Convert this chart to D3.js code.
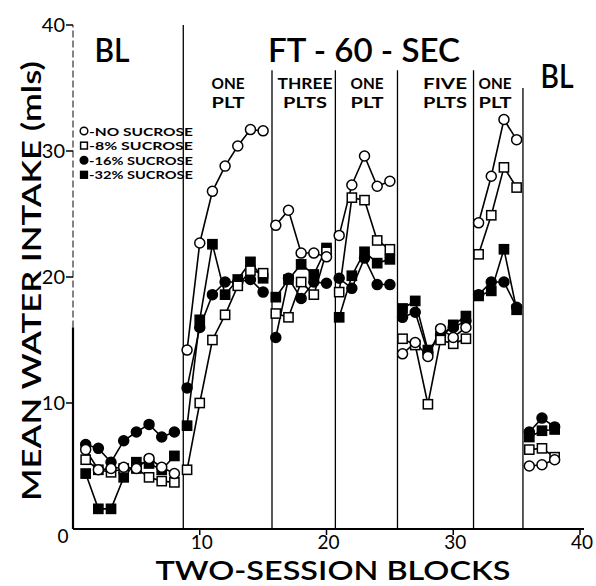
<!DOCTYPE html>
<html>
<head>
<meta charset="utf-8">
<script src="https://cdn.jsdelivr.net/npm/d3@7"></script>
<style>
  body { margin: 0; background: #fff; }
  text { font-family: Lato, "DejaVu Sans", sans-serif; fill: #000; }
</style>
</head>
<body>
<div id="chart"></div>
<script>
// blocks 1..38, split into phases
const phaseStarts = [1, 9, 16, 21, 26, 32, 36];
const phaseEnds = [8, 15, 20, 25, 31, 35, 38];
const dividers = [8.7, 15.7, 20.7, 25.6, 31.6, 35.5];
const dividerTops = [40, 36.4, 36.4, 36.4, 36.4, 35.0];

const noSucrose = [6.3, 4.7, 4.8, 4.9, 4.8, 5.6, 4.9, 4.4,
  14.2, 22.7, 26.8, 28.8, 30.4, 31.7, 31.6,
  24.1, 25.3, 21.9, 21.9, 21.6,
  23.3, 27.3, 29.6, 27.2, 27.6,
  13.9, 14.8, 13.7, 15.9, 15.2, 16.0,
  24.3, 28.0, 32.5, 30.9,
  5.0, 5.1, 5.5];
const sucrose8 = [5.5, 4.7, 4.5, 4.8, 4.8, 4.1, 3.8, 3.7,
  4.7, 10.0, 15.0, 17.0, 19.3, 20.5, 20.3,
  17.1, 16.8, 19.6, 18.6, 22.0,
  18.8, 26.3, 26.1, 22.9, 22.2,
  15.1, 14.6, 9.9, 15.0, 14.7, 15.1,
  21.8, 24.9, 28.7, 27.1,
  6.3, 6.4, 5.7];
const sucrose16 = [6.7, 6.4, 5.3, 7.0, 7.7, 8.3, 7.3, 7.7,
  11.2, 16.0, 18.6, 19.6, 19.6, 19.8, 18.8,
  15.2, 19.9, 18.3, 19.6, 19.5,
  19.9, 19.1, 21.5, 19.4, 19.4,
  16.8, 17.2, 14.0, 15.4, 16.0, 16.5,
  18.6, 19.6, 19.6, 17.6,
  7.7, 8.8, 8.1];
const sucrose32 = [4.4, 1.6, 1.6, 4.1, 5.3, 5.2, 4.7, 5.8,
  8.2, 16.6, 22.6, 18.6, 19.8, 21.2, 19.9,
  18.4, 19.8, 21.0, 20.2, 22.3,
  16.8, 20.1, 22.0, 21.1, 21.4,
  17.5, 18.1, 14.2, 15.3, 16.2, 16.9,
  18.5, 18.9, 22.2, 17.4,
  7.3, 7.8, 7.9];

const xTicks = [10, 20, 30, 40];
const yTicks = [10, 20, 30, 40];
const phaseLabels = [["ONE", "PLT"], ["THREE", "PLTS"], ["ONE", "PLT"], ["FIVE", "PLTS"], ["ONE", "PLT"]];
const phaseLabelX = [228, 305, 367, 445, 495];
const legendLabels = ["-NO SUCROSE", "-8% SUCROSE", "-16% SUCROSE", "-32% SUCROSE"];

const width = 596, height = 586;
const svg = d3.select("#chart").append("svg")
  .attr("width", width).attr("height", height);

const x = d3.scaleLinear().domain([0, 40]).range([73, 580]);
const y = d3.scaleLinear().domain([0, 40]).range([529, 25]);

// axes
svg.append("line").attr("x1", x(0)).attr("x2", x(40) + 4)
  .attr("y1", y(0)).attr("y2", y(0)).attr("stroke", "#000").attr("stroke-width", 2.2);
svg.append("line").attr("x1", x(0)).attr("x2", x(0))
  .attr("y1", y(0)).attr("y2", y(16)).attr("stroke", "#000").attr("stroke-width", 2.2);
svg.append("line").attr("x1", x(0)).attr("x2", x(0))
  .attr("y1", y(16)).attr("y2", y(40)).attr("stroke", "#333").attr("stroke-width", 1.2)
  .attr("stroke-dasharray", "7,3");

svg.append("g").selectAll("line").data(xTicks).enter().append("line")
  .attr("x1", d => x(d)).attr("x2", d => x(d))
  .attr("y1", y(0)).attr("y2", y(0) + 6).attr("stroke", "#000").attr("stroke-width", 1.5);
svg.append("g").selectAll("text").data(xTicks).enter().append("text")
  .attr("x", d => x(d) + 2).attr("y", 549)
  .attr("text-anchor", "middle").attr("font-size", 19).text(d => d);
svg.append("text").attr("x", 63).attr("y", 543).attr("text-anchor", "middle")
  .attr("font-size", 19).text("0");

svg.append("g").selectAll("line").data(yTicks).enter().append("line")
  .attr("x1", x(0) - 7).attr("x2", x(0))
  .attr("y1", d => y(d)).attr("y2", d => y(d)).attr("stroke", "#000").attr("stroke-width", 1.5);
svg.append("g").selectAll("text").data(yTicks).enter().append("text")
  .attr("x", x(0) - 8).attr("y", d => y(d) + 7)
  .attr("text-anchor", "end").attr("font-size", 20).text(d => d);

// axis titles
svg.append("text").attr("x", 333).attr("y", 580).attr("text-anchor", "middle")
  .attr("font-size", 26).attr("font-weight", 600)
  .attr("textLength", 355).attr("lengthAdjust", "spacingAndGlyphs")
  .text("TWO-SESSION BLOCKS");
svg.append("text").attr("transform", "translate(41,281) rotate(-90)")
  .attr("text-anchor", "middle").attr("font-size", 27).attr("font-weight", 600)
  .attr("textLength", 440).attr("lengthAdjust", "spacingAndGlyphs")
  .text("MEAN WATER INTAKE (mls)");

// phase dividers
svg.append("g").selectAll("line").data(dividers).enter().append("line")
  .attr("x1", d => x(d)).attr("x2", d => x(d))
  .attr("y1", y(0)).attr("y2", (d, i) => y(dividerTops[i]))
  .attr("stroke", "#000").attr("stroke-width", 1.3);

// headings
svg.append("text").attr("x", 112).attr("y", 62).attr("text-anchor", "middle")
  .attr("font-size", 33).attr("font-weight", 600)
  .attr("textLength", 35).attr("lengthAdjust", "spacingAndGlyphs").text("BL");
svg.append("text").attr("x", 557).attr("y", 88).attr("text-anchor", "middle")
  .attr("font-size", 33).attr("font-weight", 600)
  .attr("textLength", 33).attr("lengthAdjust", "spacingAndGlyphs").text("BL");
svg.append("text").attr("x", 364).attr("y", 62).attr("text-anchor", "middle")
  .attr("font-size", 33).attr("font-weight", 600)
  .attr("textLength", 192).attr("lengthAdjust", "spacingAndGlyphs").text("FT - 60 - SEC");

phaseLabels.forEach((lines, i) => {
  lines.forEach((t, j) => {
    svg.append("text").attr("x", phaseLabelX[i]).attr("y", 89 + j * 19)
      .attr("text-anchor", "middle").attr("font-size", 15.5).attr("font-weight", 700)
      .attr("textLength", t.length * 11).attr("lengthAdjust", "spacingAndGlyphs")
      .text(t);
  });
});

// series
const series = [
  { values: noSucrose, shape: "circle", filled: false },
  { values: sucrose8, shape: "square", filled: false },
  { values: sucrose16, shape: "circle", filled: true },
  { values: sucrose32, shape: "square", filled: true }
];

const line = d3.line().x(d => x(d.block)).y(d => y(d.value));

series.forEach(s => {
  phaseStarts.forEach((start, p) => {
    const seg = d3.range(start, phaseEnds[p] + 1).map(b => ({ block: b, value: s.values[b - 1] }));
    svg.append("path").datum(seg).attr("d", line)
      .attr("fill", "none").attr("stroke", "#000").attr("stroke-width", 1.6);
  });
});

function drawMarker(g, shape, filled, cx, cy, size) {
  if (shape === "circle") {
    g.append("circle").attr("cx", cx).attr("cy", cy).attr("r", size)
      .attr("fill", filled ? "#000" : "#fff").attr("stroke", "#000").attr("stroke-width", 1.5);
  } else {
    g.append("rect").attr("x", cx - size).attr("y", cy - size)
      .attr("width", size * 2).attr("height", size * 2)
      .attr("fill", filled ? "#000" : "#fff").attr("stroke", "#000").attr("stroke-width", 1.5);
  }
}

const marks = svg.append("g");
[series[3], series[2], series[1], series[0]].forEach(s => {
  s.values.forEach((v, i) => {
    drawMarker(marks, s.shape, s.filled, x(i + 1), y(v), s.shape === "circle" ? 5 : 4.6);
  });
});

// legend
const legend = svg.append("g");
legendLabels.forEach((t, i) => {
  const ly = 131 + i * 14.6;
  const s = series[i];
  drawMarker(legend, s.shape, s.filled, 84, ly, s.shape === "circle" ? 3.8 : 3.4);
  legend.append("text").attr("x", 89).attr("y", ly + 4.5)
    .attr("font-size", 12).attr("font-weight", 700)
    .attr("textLength", 104).attr("lengthAdjust", "spacingAndGlyphs").text(t);
});
</script>
</body>
</html>
